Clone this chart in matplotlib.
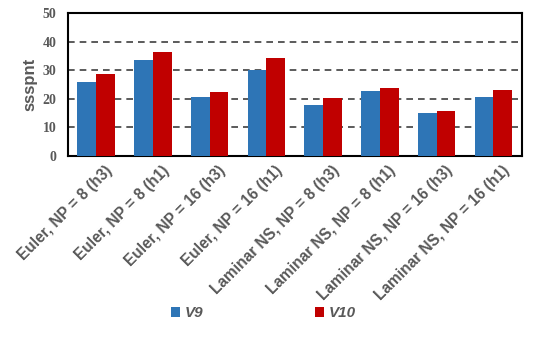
import numpy as np
import matplotlib.pyplot as plt
import matplotlib.transforms as mtransforms

categories = ['Euler, NP = 8 (h3)', 'Euler, NP = 8 (h1)', 'Euler, NP = 16 (h3)', 'Euler, NP = 16 (h1)',
              'Laminar NS, NP = 8 (h3)', 'Laminar NS, NP = 8 (h1)', 'Laminar NS, NP = 16 (h3)',
              'Laminar NS, NP = 16 (h1)']
v9 = [26.0, 33.7, 20.7, 30.1, 17.7, 22.8, 15.1, 20.7]
v10 = [28.5, 36.2, 22.2, 34.3, 20.4, 23.9, 15.7, 23.0]
yticks = [0, 10, 20, 30, 40, 50]

gray = '#595959'
fig = plt.figure(figsize=(5.38, 3.44), dpi=100)
ax = fig.add_axes([0.126, 0.547, 0.844, 0.415])

x = np.arange(len(categories))
w = 0.33
ax.bar(x - w / 2, v9, w, color='#2E75B6', label='V9', zorder=3)
ax.bar(x + w / 2, v10, w, color='#C00000', label='V10', zorder=3)

ax.set_xlim(-0.5, len(categories) - 0.5)
ax.set_ylim(0, 50)
ax.set_yticks(yticks)
ax.set_yticklabels([str(t) for t in yticks], fontfamily='Liberation Serif', fontweight='bold',
                   fontsize=10, color=gray)
for t in [10, 20, 30, 40]:
    ax.axhline(t, color='#404040', linestyle=(0, (4, 3)), linewidth=1.2, zorder=1)
ax.tick_params(axis='y', length=0, pad=8)
ax.tick_params(axis='x', length=0, pad=5)
ax.set_xticks(x)
ax.set_xticklabels(categories, rotation=45, ha='right', rotation_mode='anchor',
                   fontweight='bold', fontsize=11.2, color=gray, fontfamily='Liberation Sans')
# shift the rotated labels a bit to the right, like the original
offset = mtransforms.ScaledTranslation(6 / 72, 0, fig.dpi_scale_trans)
for lab in ax.get_xticklabels():
    lab.set_transform(lab.get_transform() + offset)
ax.set_ylabel('ssspnt', fontweight='bold', fontsize=12, color=gray, fontfamily='Liberation Sans')
for s in ax.spines.values():
    s.set_linewidth(1.5)
    s.set_color('black')

leg = fig.legend(loc='center', bbox_to_anchor=(0.49, 0.09), ncol=2, frameon=False,
                 columnspacing=7.3, handlelength=0.6, handleheight=0.6, handletextpad=0.3,
                 prop={'family': 'Liberation Sans', 'weight': 'bold', 'style': 'italic', 'size': 11})
for t in leg.get_texts():
    t.set_color(gray)

fig.savefig('out.png', dpi=100)
